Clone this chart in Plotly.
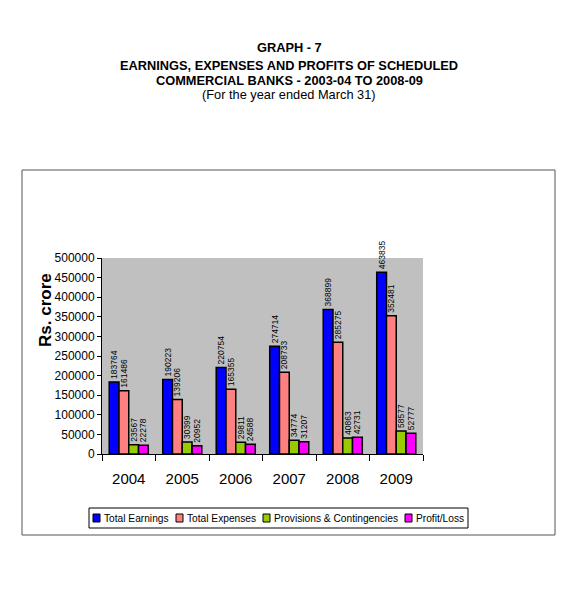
import plotly.graph_objects as go

years = ["2004", "2005", "2006", "2007", "2008", "2009"]
earnings = [183764, 190223, 220754, 274714, 368899, 463835]
expenses = [161486, 139206, 165355, 208733, 285275, 352481]
provisions = [23567, 30399, 29811, 34774, 40863, 58577]
profit = [22278, 20952, 24588, 31207, 42731, 52777]

series = [
    ("Total Earnings", earnings, "#0000ff"),
    ("Total Expenses", expenses, "#ff8080"),
    ("Provisions & Contingencies", provisions, "#99cc00"),
    ("Profit/Loss", profit, "#ff00ff"),
]

# page has an 8px body margin, so work in window pixels minus 8
OFF = 8
W, H = 575 - 2 * OFF, 590 - 2 * OFF
L, R, T, B = 102 - OFF, 423 - OFF, 258 - OFF, 454 - OFF


def px(x):
    return (x - OFF - L) / (R - L)


def py(y):
    return (B - (y - OFF)) / (B - T)


fig = go.Figure()
for name, vals, col in series:
    fig.add_trace(go.Bar(
        name=name,
        x=years,
        y=vals,
        marker=dict(color=col, line=dict(color="black", width=1.5)),
        text=[str(v) for v in vals],
        textposition="outside",
        textangle=-90,
        constraintext="none",
        cliponaxis=False,
        textfont=dict(family="Arial", size=8.5, color="black"),
    ))

fig.update_layout(
    width=W, height=H,
    margin=dict(l=L, r=W - R, t=T, b=H - B, autoexpand=False),
    paper_bgcolor="white",
    plot_bgcolor="#c0c0c0",
    barmode="group",
    bargap=0.27,
    bargroupgap=0,
    font=dict(family="Arial", color="black"),
    showlegend=False,
)

fig.update_xaxes(
    type="category", showline=True, linecolor="black", linewidth=1,
    ticks="outside", tickson="boundaries", ticklen=6, tickcolor="black",
    tickfont=dict(size=15), ticklabelstandoff=11, showgrid=False, automargin=False,
)
fig.update_yaxes(
    range=[0, 500000], dtick=50000, tickformat="d", showline=True,
    linecolor="black", linewidth=1,
    ticks="outside", ticklen=4, tickcolor="black", tickfont=dict(size=12),
    showgrid=False, zeroline=False, automargin=False,
)

# outer frame
fig.add_shape(type="rect", xref="paper", yref="paper",
              x0=px(22), x1=px(555), y0=py(535), y1=py(170),
              line=dict(color="#555555", width=1), layer="below")

# legend box with swatches
fig.add_shape(type="rect", xref="paper", yref="paper",
              x0=px(89), x1=px(468), y0=py(528), y1=py(508),
              line=dict(color="black", width=1), fillcolor="white")
legend_x = [93, 176, 263, 405]
for (name, vals, col), lx in zip(series, legend_x):
    fig.add_shape(type="rect", xref="paper", yref="paper",
                  x0=px(lx), x1=px(lx + 7), y0=py(522), y1=py(514),
                  line=dict(color="black", width=1), fillcolor=col)
    fig.add_annotation(text=name, xref="paper", yref="paper",
                       x=px(lx + 9), y=py(518), xanchor="left", yanchor="middle",
                       showarrow=False, font=dict(size=10.2))

# y-axis title
fig.add_annotation(text="<b>Rs. crore</b>", xref="paper", yref="paper",
                   x=px(45), y=py(310), xanchor="center", yanchor="middle",
                   textangle=-90, showarrow=False, font=dict(size=17))

titles = [
    ("<b>GRAPH - 7</b>", 48),
    ("<b>EARNINGS, EXPENSES AND PROFITS OF SCHEDULED</b>", 65),
    ("<b>COMMERCIAL BANKS - 2003-04 TO 2008-09</b>", 80),
    ("(For the year ended March 31)", 95),
]
for txt, yp in titles:
    fig.add_annotation(text=txt, xref="paper", yref="paper", x=px(289), y=py(yp),
                       xanchor="center", yanchor="middle", showarrow=False,
                       font=dict(size=12.8))

fig.write_html("out.html")
